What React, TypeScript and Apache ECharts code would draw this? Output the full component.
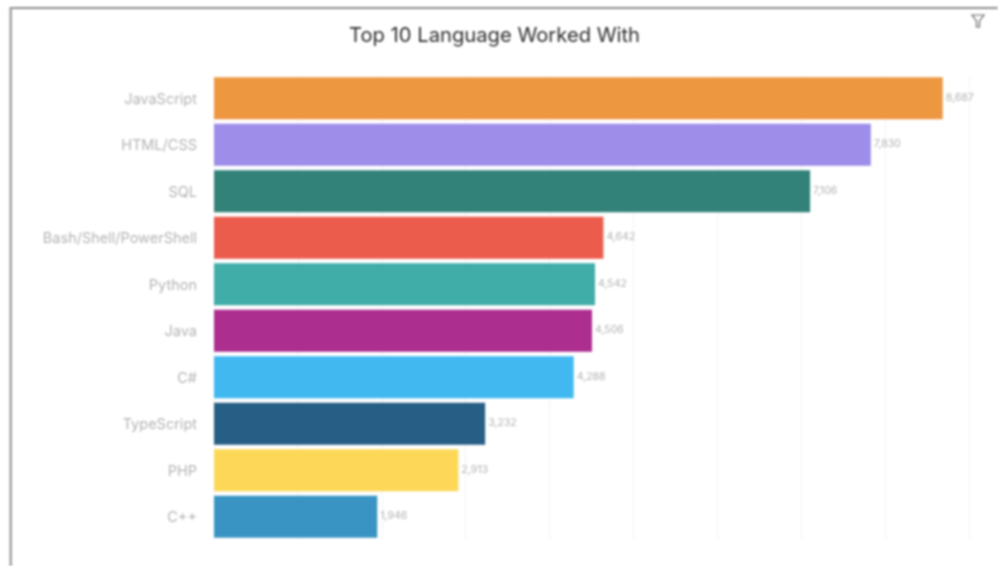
import React, { useEffect, useRef } from "react";
import * as echarts from "echarts";

const languages = ["JavaScript", "HTML/CSS", "SQL", "Bash/Shell/PowerShell", "Python", "Java", "C#", "TypeScript", "PHP", "C++"];
const respondents = [8687, 7830, 7106, 4642, 4542, 4506, 4288, 3232, 2913, 1946];
const barColors = ["#EE9741", "#9E8DE9", "#33827A", "#EC5C4D", "#41ADA8", "#AC2E8E", "#41B9F0", "#265E85", "#FDD858", "#3A94C3"];
const chartTitle = "Top 10 Language Worked With";

const FONT = "Inter, 'Open Sans', sans-serif";

export default function App() {
  const ref = useRef<HTMLDivElement>(null);
  useEffect(() => {
    const chart = echarts.init(ref.current!, undefined, { renderer: "svg", width: 998, height: 566 });
    chart.setOption({
      animation: false,
      backgroundColor: "#ffffff",
      title: {
        text: chartTitle,
        left: 344,
        top: 19,
        textStyle: { fontFamily: FONT, fontSize: 20.2, fontWeight: 400, color: "#2E2E2E" },
      },
      grid: { left: 214, top: 75, width: 755, height: 465 },
      xAxis: {
        type: "value",
        min: 0,
        max: 9000,
        interval: 1000,
        axisLabel: { show: false },
        axisLine: { show: false },
        axisTick: { show: false },
        splitLine: { show: true, lineStyle: { color: "#F4F4F4", width: 1 } },
      },
      yAxis: {
        type: "category",
        inverse: true,
        data: languages,
        axisLine: { show: false },
        axisTick: { show: false },
        axisLabel: { color: "#B4B4B4", fontSize: 14.5, fontFamily: FONT, margin: 17 },
      },
      series: [
        {
          type: "bar",
          data: respondents.map((value, i) => ({ value, itemStyle: { color: barColors[i] } })),
          barWidth: 42,
          label: {
            show: true,
            position: "right",
            distance: 3,
            offset: [0, -1],
            fontSize: 10.5,
            fontFamily: FONT,
            color: "#B0B0B0",
            formatter: (p: any) => p.value.toLocaleString("en-US"),
          },
        },
      ],
      graphic: [
        { type: "rect", shape: { x: 9.5, y: 7, width: 988.5, height: 2 }, style: { fill: "#8E8E8E" }, silent: true },
        { type: "rect", shape: { x: 9.5, y: 7, width: 2.5, height: 559 }, style: { fill: "#A0A0A0" }, silent: true },
        {
          type: "polygon",
          shape: { points: [[972, 15], [984, 15], [979.5, 21], [979.5, 27], [976.5, 27], [976.5, 21]] },
          style: { fill: "none", stroke: "#666666", lineWidth: 1.2 },
          silent: true,
        },
      ],
    });
    return () => chart.dispose();
  }, []);
  return (
    <div
      ref={ref}
      style={{ position: "fixed", left: 0, top: 0, width: 998, height: 566, filter: "blur(0.8px)" }}
    />
  );
}
